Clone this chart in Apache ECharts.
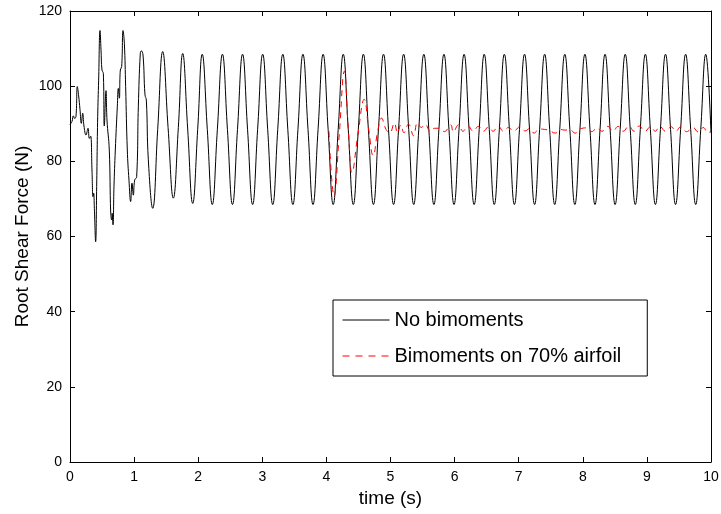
<!DOCTYPE html>
<html>
<head>
<meta charset="utf-8">
<script src="https://cdn.jsdelivr.net/npm/echarts@6/dist/echarts.min.js"></script>
<style>
html,body{margin:0;padding:0;background:#fff;}
#chart{width:721px;height:514px;}
</style>
</head>
<body>
<div id="chart"></div>
<script>
// ---- data ----
const seriesNames = ['No bimoments', 'Bimoments on 70% airfoil'];

const blackT = [
  0, 0.031, 0.052, 0.073, 0.094, 0.114, 0.135, 0.156, 0.177, 0.198, 0.218, 0.250, 0.281, 0.302, 0.322,
  0.343, 0.359, 0.369, 0.380, 0.400, 0.416, 0.432, 0.447, 0.468, 0.484, 0.499, 0.520, 0.535, 0.562,
  0.577, 0.613, 0.635, 0.650, 0.657, 0.671, 0.686, 0.707, 0.738, 0.754, 0.770, 0.785, 0.806, 0.827,
  0.848, 0.868, 0.894, 0.920, 0.946, 0.967, 0.988, 1.009, 1.040, 1.066, 1.097, 1.113, 1.139, 1.170,
  1.191, 1.222, 1.290, 1.368, 1.446, 1.530, 1.612, 1.690, 1.758, 1.836, 1.914, 1.992, 2.063,
  2.142, 2.220, 2.299, 2.378, 2.456, 2.535, 2.613, 2.692, 2.770, 2.849, 2.927, 3.006,
  3.084, 3.163, 3.241, 3.320, 3.398, 3.477, 3.556, 3.634, 3.713, 3.791, 3.870, 3.949,
  4.027, 4.106, 4.184, 4.263, 4.341, 4.420, 4.498, 4.577, 4.655, 4.734, 4.812, 4.891,
  4.969, 5.048, 5.126, 5.205, 5.284, 5.362, 5.441, 5.520, 5.598, 5.677, 5.755, 5.834,
  5.912, 5.991, 6.069, 6.148, 6.226, 6.305, 6.384, 6.462, 6.541, 6.619, 6.698, 6.776,
  6.855, 6.933, 7.012, 7.091, 7.169, 7.248, 7.326, 7.405, 7.483, 7.562, 7.640, 7.719,
  7.798, 7.876, 7.955, 8.033, 8.112, 8.190, 8.269, 8.347, 8.426, 8.504, 8.583, 8.662,
  8.740, 8.819, 8.897, 8.976, 9.054, 9.133, 9.211, 9.290, 9.369, 9.447, 9.526, 9.604,
  9.683, 9.761, 9.840, 9.918, 10.0
];
const blackV = [
  89.8, 90.6, 92.1, 91.4, 92.1, 99.9, 97.4, 93.8, 90.1, 92.8, 89.4, 87.0, 88.8, 86.1, 86.7,
  77.7, 70.6, 71.5, 67.5, 58.6, 73.3, 91.9, 101.6, 114.8, 109.6, 104.3, 103.4, 89.4, 98.8,
  91.0, 83.0, 66.2, 64.4, 66.2, 63.1, 73.3, 83.0, 94.5, 99.4, 96.8, 104.3, 105.2, 114.8,
  111.4, 99.9, 83.0, 75.0, 69.3, 74.2, 71.0, 75.0, 75.9, 94.5, 108.8, 109.4, 108.3, 97.7,
  96.3, 80.4, 67.5, 88.5, 109.2, 89.0, 70.2, 89.0, 108.7, 88.6, 68.8, 88.5, 108.5,
  88.5, 68.5, 88.5, 108.5, 88.5, 68.5, 88.5, 108.5, 88.5, 68.5, 88.5, 108.5,
  88.5, 68.5, 88.5, 108.5, 88.5, 68.5, 88.5, 108.5, 88.5, 68.5, 88.5, 108.5,
  88.5, 68.5, 88.5, 108.5, 88.5, 68.5, 88.5, 108.5, 88.5, 68.5, 88.5, 108.5,
  88.5, 68.5, 88.5, 108.5, 88.5, 68.5, 88.5, 108.5, 88.5, 68.5, 88.5, 108.5,
  88.5, 68.5, 88.5, 108.5, 88.5, 68.5, 88.5, 108.5, 88.5, 68.5, 88.5, 108.5,
  88.5, 68.5, 88.5, 108.5, 88.5, 68.5, 88.5, 108.5, 88.5, 68.5, 88.5, 108.5,
  88.5, 68.5, 88.5, 108.5, 88.5, 68.5, 88.5, 108.5, 88.5, 68.5, 88.5, 108.5,
  88.5, 68.5, 88.5, 108.5, 88.5, 68.5, 88.5, 108.5, 88.5, 68.5, 88.5, 108.5,
  88.5, 68.5, 88.5, 108.5, 87.5
];

const redT = [
  4.04, 4.12, 4.20, 4.28, 4.34, 4.40, 4.49, 4.59, 4.66, 4.73, 4.80, 4.86, 4.93, 4.99,
  5.06, 5.11, 5.16, 5.21, 5.28, 5.36, 5.42, 5.48, 5.54, 5.62, 5.69, 5.77, 5.84, 5.94,
  5.98, 6.06, 6.13, 6.21, 6.29, 6.37, 6.45, 6.53, 6.60, 6.68, 6.76, 6.84, 6.92, 7.02,
  7.10, 7.17, 7.24, 7.32, 7.40, 7.48, 7.57, 7.65, 7.72, 7.80, 7.88, 7.96, 8.06, 8.14,
  8.22, 8.30, 8.39, 8.47, 8.55, 8.63, 8.72, 8.80, 8.88, 8.97, 9.06, 9.13, 9.20, 9.29,
  9.38, 9.45, 9.53, 9.62, 9.72, 9.80, 9.88, 9.95, 10.0
];
const redV = [
  88.0, 70.8, 87.0, 104.0, 89.0, 77.0, 87.0, 96.5, 88.5, 81.5, 88.0, 91.5, 88.5, 87.6,
  90.2, 87.5, 89.7, 87.6, 89.9, 86.8, 90.3, 89.0, 89.9, 88.0, 88.8, 88.8, 87.9, 89.7,
  87.8, 89.7, 88.0, 89.4, 88.0, 89.3, 88.0, 89.2, 88.0, 89.4, 88.0, 89.0, 88.0, 89.2,
  88.1, 88.7, 87.5, 88.6, 88.5, 88.2, 87.5, 88.5, 88.3, 88.4, 87.5, 88.6, 88.9, 87.9,
  88.9, 88.0, 89.3, 88.0, 89.3, 88.0, 89.4, 88.0, 89.4, 88.0, 89.3, 88.0, 89.3, 88.0,
  89.2, 88.0, 89.2, 87.9, 89.0, 87.8, 89.0, 87.6, 88.0
];

const xMin = 0, xMax = 10, xStep = 1;
const yMin = 0, yMax = 120, yStep = 20;
const xTitle = 'time (s)';
const yTitle = 'Root Shear Force (N)';

// ---- chart ----
const FONT = '"Liberation Sans", Arial, Helvetica, sans-serif';
const chart = echarts.init(document.getElementById('chart'), null, {renderer: 'canvas'});

function axisBase(extra) {
  return Object.assign({
    type: 'value',
    axisLine: {show: true, onZero: false, lineStyle: {color: '#000', width: 1}},
    axisTick: {show: true, inside: true, length: 5, lineStyle: {color: '#000', width: 1}},
    splitLine: {show: false},
    axisLabel: {color: '#000', fontSize: 14, fontFamily: FONT, margin: 8}
  }, extra);
}

const option = {
  animation: false,
  backgroundColor: '#fff',
  grid: {left: 70, right: 10, top: 11, bottom: 52, containLabel: false, outerBoundsMode: 'none'},
  xAxis: [
    axisBase({min: xMin, max: xMax, interval: xStep, position: 'bottom',
      name: xTitle, nameLocation: 'middle', nameGap: 26,
      nameTextStyle: {color: '#000', fontSize: 19, fontFamily: FONT}}),
    axisBase({min: xMin, max: xMax, interval: xStep, position: 'top',
      axisLabel: {show: false}})
  ],
  yAxis: [
    axisBase({min: yMin, max: yMax, interval: yStep, position: 'left',
      name: yTitle, nameLocation: 'middle', nameGap: 38, nameRotate: 90,
      nameMoveOverlap: false,
      nameTextStyle: {color: '#000', fontSize: 19, fontFamily: FONT}}),
    axisBase({min: yMin, max: yMax, interval: yStep, position: 'right',
      axisLabel: {show: false}})
  ],
  legend: {
    show: true,
    type: 'plain',
    orient: 'vertical',
    left: 333,
    top: 300,
    padding: [10, 26, 10, 9],
    itemWidth: 47,
    itemHeight: 20,
    itemGap: 16,
    backgroundColor: '#fff',
    borderColor: '#000',
    borderWidth: 1,
    borderRadius: 0,
    itemStyle: {color: 'rgba(0,0,0,0)', borderWidth: 0, opacity: 0},
    textStyle: {color: '#000', fontSize: 20, fontFamily: FONT},
    data: [
      {name: seriesNames[0], lineStyle: {width: 1, color: '#000', type: 'solid'}},
      {name: seriesNames[1], lineStyle: {width: 1, color: '#ff0000', type: [7, 6]}}
    ]
  },
  series: [
    {
      name: seriesNames[0],
      type: 'line',
      xAxisIndex: 0, yAxisIndex: 0,
      data: blackT.map((t, i) => [t, blackV[i]]),
      showSymbol: false, symbol: 'none',
      smooth: 0.45,
      lineStyle: {color: '#000', width: 1},
      itemStyle: {color: '#000'},
      z: 2
    },
    {
      name: seriesNames[1],
      type: 'line',
      xAxisIndex: 0, yAxisIndex: 0,
      data: redT.map((t, i) => [t, redV[i]]),
      showSymbol: false, symbol: 'none',
      smooth: 0.45,
      lineStyle: {color: '#ff0000', width: 1, type: [6, 5]},
      itemStyle: {color: '#ff0000'},
      z: 3
    }
  ]
};
chart.setOption(option);
</script>
</body>
</html>
